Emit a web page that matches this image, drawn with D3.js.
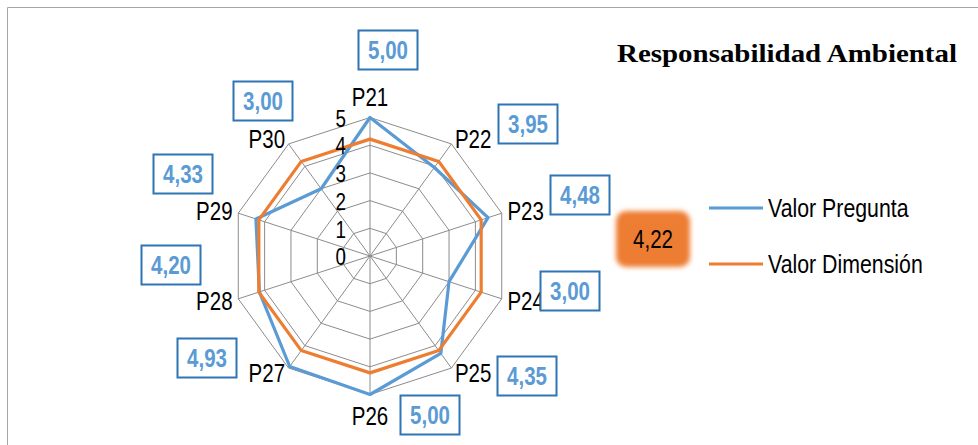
<!DOCTYPE html>
<html>
<head>
<meta charset="utf-8">
<script src="https://cdn.jsdelivr.net/npm/d3@7"></script>
<style>
  html, body { margin: 0; padding: 0; background: #ffffff; }
  svg { display: block; }
</style>
</head>
<body>
<svg id="chart" width="978" height="445"></svg>
<script>
// ---- data ----
const categories = ["P21", "P22", "P23", "P24", "P25", "P26", "P27", "P28", "P29", "P30"];
const preguntaValues = [5.00, 3.95, 4.48, 3.00, 4.35, 5.00, 4.93, 4.20, 4.33, 3.00];
const dimensionValues = [4.22, 4.22, 4.22, 4.22, 4.22, 4.22, 4.22, 4.22, 4.22, 4.22];
const dimensionAverage = 4.22;
const tickValues = [0, 1, 2, 3, 4, 5];
const seriesNames = ["Valor Pregunta", "Valor Dimensión"];
const chartTitle = "Responsabilidad Ambiental";

// ---- layout ----
const W = 978, H = 445;
const cx = 370, cy = 256, R = 138.5;
// data-label box centres, offset from the radar centre (px)
const labelOffsets = [[18, -206], [158, -132], [210, -61], [200, 35], [157, 120],
                      [60, 159], [-163, 102], [-199, 9], [-187, -82], [-107, -155]];
const colors = { pregunta: "#5B9BD5", dimension: "#ED7D31", grid: "#8c8c8c", box: "#2E75B6" };

const esLocale = d3.formatLocale({ decimal: ",", thousands: ".", grouping: [3], currency: ["", " €"] });
const fmt = esLocale.format(".2f");

// Narrow sans: use Liberation Sans Narrow when present, otherwise condense Liberation Sans
function hasFont(name) {
  const c = document.createElement("canvas").getContext("2d");
  const s = "Valor Pregunta 0123456789";
  c.font = "40px monospace";
  const w0 = c.measureText(s).width;
  c.font = `40px "${name}", monospace`;
  return c.measureText(s).width !== w0;
}
const narrowAvailable = hasFont("Liberation Sans Narrow");
const narrowFamily = narrowAvailable ? "'Liberation Sans Narrow'" : "'Liberation Sans', Arial, sans-serif";
const narrowScale = narrowAvailable ? 1 : 0.82;

function narrowText(parent, x, y, str, size, opts = {}) {
  const g = parent.append("g").attr("transform", `translate(${x},${y}) scale(${narrowScale},1)`);
  return g.append("text")
    .attr("font-family", narrowFamily)
    .attr("font-size", size)
    .attr("font-weight", opts.weight || "normal")
    .attr("fill", opts.fill || "#000")
    .attr("text-anchor", opts.anchor || "start")
    .attr("dominant-baseline", opts.baseline || "auto")
    .text(str);
}

const svg = d3.select("#chart");

// blur used for the soft-edged average badge
const defs = svg.append("defs");
defs.append("filter").attr("id", "soft").attr("x", "-30%").attr("y", "-30%").attr("width", "160%").attr("height", "160%")
  .append("feGaussianBlur").attr("stdDeviation", 2.4);

// chart area frame (top and left edges show)
svg.append("path")
  .attr("d", `M7.5,${H} V7.5 H${W}`)
  .attr("fill", "none").attr("stroke", "#a6a6a6").attr("stroke-width", 1);

// ---- scales ----
const rScale = d3.scaleLinear().domain([0, 5]).range([0, R]);
const angle = d3.scalePoint().domain(categories).range([0, 2 * Math.PI * (categories.length - 1) / categories.length]);

const radar = svg.append("g").attr("transform", `translate(${cx},${cy})`);

const ringLine = d3.lineRadial()
  .angle(d => angle(d))
  .curve(d3.curveLinearClosed);

// grid rings
tickValues.filter(t => t > 0).forEach(t => {
  radar.append("path")
    .attr("d", ringLine.radius(() => rScale(t))(categories))
    .attr("fill", "none").attr("stroke", colors.grid).attr("stroke-width", 1);
});

// spokes
radar.selectAll("line.spoke").data(categories).join("line")
  .attr("class", "spoke")
  .attr("x1", 0).attr("y1", 0)
  .attr("x2", d => rScale(5) * Math.sin(angle(d)))
  .attr("y2", d => -rScale(5) * Math.cos(angle(d)))
  .attr("stroke", colors.grid).attr("stroke-width", 1);

// series
const seriesLine = d3.lineRadial()
  .angle((d, i) => angle(categories[i]))
  .radius(d => rScale(d))
  .curve(d3.curveLinearClosed);

radar.append("path")
  .attr("d", seriesLine(preguntaValues))
  .attr("fill", "none").attr("stroke", colors.pregunta).attr("stroke-width", 3.2)
  .attr("stroke-linejoin", "round");

radar.append("path")
  .attr("d", seriesLine(dimensionValues))
  .attr("fill", "none").attr("stroke", colors.dimension).attr("stroke-width", 3.2)
  .attr("stroke-linejoin", "round");

// radial tick labels
tickValues.forEach(t => {
  narrowText(radar, -24, -rScale(t) + 1, String(t), 23, { anchor: "end", baseline: "central" });
});

// category labels
categories.forEach(c => {
  const a = angle(c);
  const s = Math.sin(a), k = Math.cos(a);
  const rr = rScale(5) + 6;
  let x = rr * s, y = -rr * k;
  let anchor = "middle", yb;
  if (Math.abs(s) < 0.1) {
    yb = k > 0 ? -rScale(5) - 12 : rScale(5) + 30;
  } else {
    anchor = s > 0 ? "start" : "end";
    yb = y + 9;
  }
  narrowText(radar, x, yb, c, 25, { anchor });
});

// value labels in boxes
const boxW = 59, boxH = 39;
preguntaValues.forEach((v, i) => {
  const [ox, oy] = labelOffsets[i];
  radar.append("rect")
    .attr("x", ox - boxW / 2).attr("y", oy - boxH / 2)
    .attr("width", boxW).attr("height", boxH)
    .attr("fill", "#fff").attr("stroke", colors.box).attr("stroke-width", 2);
  narrowText(radar, ox, oy + 9, fmt(v), 25, { anchor: "middle", weight: "bold", fill: colors.pregunta });
});

// title
svg.append("text")
  .attr("x", 617).attr("y", 62)
  .attr("font-family", "'Liberation Serif', 'DejaVu Serif', serif")
  .attr("font-weight", "bold").attr("font-size", 25)
  .attr("textLength", 340).attr("lengthAdjust", "spacingAndGlyphs")
  .text(chartTitle);

// dimension average badge
svg.append("rect")
  .attr("x", 616).attr("y", 211).attr("width", 74).attr("height", 56).attr("rx", 10)
  .attr("fill", colors.dimension).attr("filter", "url(#soft)");
narrowText(svg, 653, 248, fmt(dimensionAverage), 25, { anchor: "middle" });

// legend
const legend = svg.append("g");
[colors.pregunta, colors.dimension].forEach((col, i) => {
  const y = 208 + i * 56;
  legend.append("line")
    .attr("x1", 709).attr("x2", 763).attr("y1", y).attr("y2", y)
    .attr("stroke", col).attr("stroke-width", 3.2);
  narrowText(legend, 768, y + 9, seriesNames[i], 26);
});
</script>
</body>
</html>
